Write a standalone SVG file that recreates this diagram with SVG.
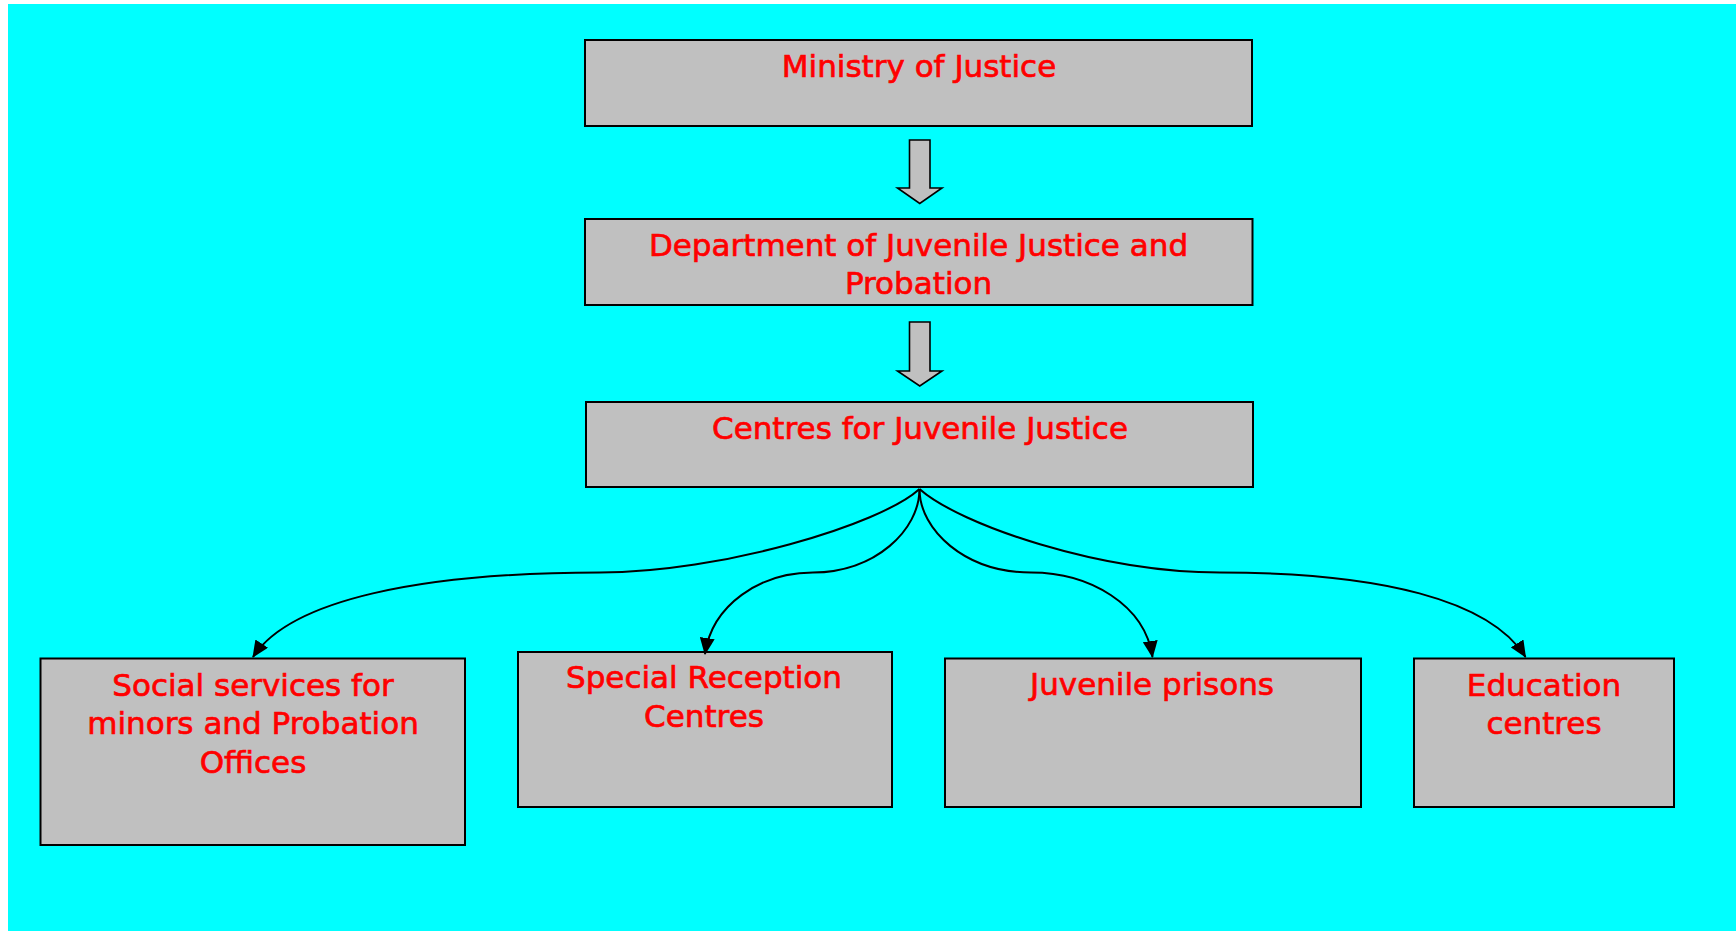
<svg xmlns="http://www.w3.org/2000/svg" width="1736" height="931" viewBox="0 0 1736 931">
<style>
.box{fill:#c0c0c0;stroke:#000;stroke-width:2}
.blk{fill:#c0c0c0;stroke:#000;stroke-width:1.6;stroke-linejoin:miter}
.t{font-family:"DejaVu Sans","Liberation Sans",sans-serif;font-size:31px;fill:#ff0000;stroke:#ff0000;stroke-width:0.7;text-anchor:middle}
.con{fill:none;stroke:#000;stroke-width:2}
</style>
<defs>
<marker id="ah" viewBox="0 0 17 15" refX="16" refY="7.5" markerWidth="17" markerHeight="15" markerUnits="userSpaceOnUse" orient="auto">
<path d="M0,0 L17,7.5 L0,15 Z" fill="#000"/>
</marker>
</defs>
<rect x="0" y="0" width="1736" height="931" fill="#ffffff"/>
<rect x="8" y="4" width="1728" height="927" fill="#00ffff"/>

<g id="ministry">
<rect class="box" x="585" y="40" width="667" height="86"/>
<text class="t" x="919" y="77">Ministry of Justice</text>
</g>
<g id="department">
<rect class="box" x="585" y="219" width="667.5" height="86"/>
<text class="t" x="918.5" y="256">Department of Juvenile Justice and</text>
<text class="t" x="918.5" y="294">Probation</text>
</g>
<g id="centres">
<rect class="box" x="586" y="402" width="667" height="85"/>
<text class="t" x="920" y="439">Centres for Juvenile Justice</text>
</g>
<g id="social">
<rect class="box" x="40.5" y="658.5" width="424.5" height="186.5"/>
<text class="t" x="253" y="696">Social services for</text>
<text class="t" x="253" y="734">minors and Probation</text>
<text class="t" x="253" y="772.5">Offices</text>
</g>
<g id="special">
<rect class="box" x="518" y="652" width="374" height="155"/>
<text class="t" x="704" y="688">Special Reception</text>
<text class="t" x="704" y="726.5">Centres</text>
</g>
<g id="juvenile">
<rect class="box" x="945" y="658.5" width="416" height="148.5"/>
<text class="t" x="1152" y="695">Juvenile prisons</text>
</g>
<g id="education">
<rect class="box" x="1414" y="658.5" width="260" height="148.5"/>
<text class="t" x="1544" y="695.5">Education</text>
<text class="t" x="1544" y="734">centres</text>
</g>

<g id="connectors">
<polygon class="blk" points="909.5,140 930,140 930,188 942,188 919.75,203.5 897.5,188 909.5,188"/>
<polygon class="blk" points="909.5,322 930,322 930,371 942,371 919.75,386 897.5,371 909.5,371"/>
<path class="con" marker-end="url(#ah)" d="M919.5,489 C880,525 720,572.5 600,572.5 C420,572.5 290,600 253,657"/>
<path class="con" marker-end="url(#ah)" d="M919.5,489 C919.5,530 875,572.5 813,572.5 C760,572.5 712,605 705,654"/>
<path class="con" marker-end="url(#ah)" d="M919.5,489 C919.5,530 965,572.5 1031,572.5 C1090,572.5 1145,605 1152.5,657"/>
<path class="con" marker-end="url(#ah)" d="M919.5,489 C960,525 1100,572.5 1220,572.5 C1380,572.5 1490,600 1525.5,657"/>
</g>
</svg>
